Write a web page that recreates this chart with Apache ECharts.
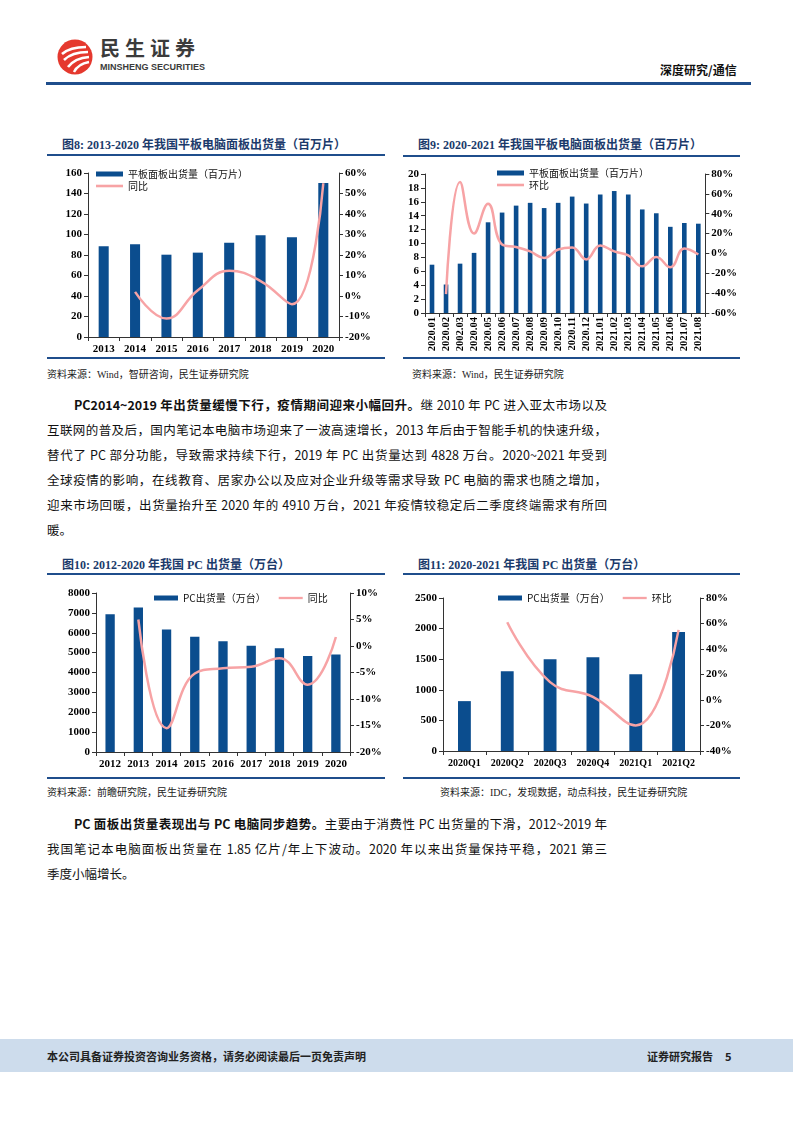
<!DOCTYPE html>
<html><head><meta charset="utf-8">
<script src="https://cdn.jsdelivr.net/npm/echarts/dist/echarts.min.js"></script>
<style>
body{margin:0;width:793px;height:1122px;position:relative;background:#fff;font-family:"Noto Sans CJK SC",sans-serif;overflow:hidden}
.abs{position:absolute}
.title{position:absolute;font-family:"Liberation Serif","Noto Sans CJK SC",serif;font-weight:bold;font-size:12px;color:#1b3a6b;white-space:nowrap;line-height:14px}
.rule{position:absolute;height:2px;background:#1f4e8c}
.src{position:absolute;font-family:"Liberation Serif","Noto Sans CJK SC",serif;font-size:10px;color:#222;white-space:nowrap;line-height:12px}
.para{position:absolute;left:47px;width:560px;font-size:12.5px;color:#111}
.para div{height:25px;line-height:25px;white-space:nowrap;text-align:justify;text-align-last:justify}
.para div.last{text-align-last:left}
.para b{font-weight:bold}
.chart{position:absolute}
</style></head>
<body>
<!-- header -->
<svg class="abs" style="left:56px;top:38px" width="40" height="40" viewBox="0 0 40 40">
  <circle cx="19" cy="19" r="17.5" fill="#e5392e"/>
  <path d="M6 16 Q14 9 30 9" stroke="#fff" stroke-width="2.6" fill="none"/>
  <path d="M8 22 Q16 14 32 14" stroke="#fff" stroke-width="2.6" fill="none"/>
  <path d="M12 29 Q19 20 33 19" stroke="#fff" stroke-width="2.6" fill="none"/>
  <path d="M18 34 Q22 26 33 24" stroke="#fff" stroke-width="2.4" fill="none"/>
</svg>
<div class="abs" style="left:100px;top:36px;font-size:20px;font-weight:bold;color:#3b3b3b;letter-spacing:5px;line-height:24px">民生证券</div>
<div class="abs" style="left:100px;top:62px;font-family:'Liberation Sans Narrow','Liberation Sans',sans-serif;font-size:9px;font-weight:bold;color:#3b3b3b;line-height:10px;white-space:nowrap">MINSHENG SECURITIES</div>
<div class="abs" style="left:660px;top:62px;font-size:12px;font-weight:bold;color:#111;line-height:16px;white-space:nowrap">深度研究/通信</div>
<div class="rule" style="left:46px;top:82px;width:705px;height:3px"></div>

<!-- chart titles and rules -->
<div class="title" style="left:62px;top:138px">图8: 2013-2020 年我国平板电脑面板出货量（百万片）</div>
<div class="rule" style="left:47px;top:154px;width:338px"></div>
<div class="rule" style="left:47px;top:357px;width:338px"></div>
<div class="src" style="left:47px;top:369px">资料来源：Wind，智研咨询，民生证券研究院</div>

<div class="title" style="left:418px;top:138px">图9: 2020-2021 年我国平板电脑面板出货量（百万片）</div>
<div class="rule" style="left:403px;top:155px;width:337px"></div>
<div class="rule" style="left:403px;top:357px;width:337px"></div>
<div class="src" style="left:412px;top:369px">资料来源：Wind，民生证券研究院</div>

<div class="title" style="left:62px;top:558px">图10: 2012-2020 年我国 PC 出货量（万台）</div>
<div class="rule" style="left:47px;top:573px;width:338px"></div>
<div class="rule" style="left:47px;top:777px;width:338px"></div>
<div class="src" style="left:47px;top:787px">资料来源：前瞻研究院，民生证券研究院</div>

<div class="title" style="left:418px;top:558px">图11: 2020-2021 年我国 PC 出货量（万台）</div>
<div class="rule" style="left:403px;top:573px;width:337px"></div>
<div class="rule" style="left:403px;top:777px;width:337px"></div>
<div class="src" style="left:440px;top:787px">资料来源：IDC，发现数据，动点科技，民生证券研究院</div>

<!-- paragraphs -->
<div class="para" style="top:392px">
<div style="padding-left:27px"><b>PC2014~2019 年出货量缓慢下行，疫情期间迎来小幅回升。</b>继 2010 年 PC 进入亚太市场以及</div>
<div>互联网的普及后，国内笔记本电脑市场迎来了一波高速增长，2013 年后由于智能手机的快速升级，</div>
<div>替代了 PC 部分功能，导致需求持续下行，2019 年 PC 出货量达到 4828 万台。2020~2021 年受到</div>
<div>全球疫情的影响，在线教育、居家办公以及应对企业升级等需求导致 PC 电脑的需求也随之增加，</div>
<div>迎来市场回暖，出货量抬升至 2020 年的 4910 万台，2021 年疫情较稳定后二季度终端需求有所回</div>
<div class="last">暖。</div>
</div>
<div class="para" style="top:811px">
<div style="padding-left:27px"><b>PC 面板出货量表现出与 PC 电脑同步趋势。</b>主要由于消费性 PC 出货量的下滑，2012~2019 年</div>
<div>我国笔记本电脑面板出货量在 1.85 亿片/年上下波动。2020 年以来出货量保持平稳，2021 第三</div>
<div class="last">季度小幅增长。</div>
</div>

<!-- footer -->
<div class="abs" style="left:0;top:1039px;width:793px;height:33px;background:#cddcec"></div>
<div class="abs" style="left:47px;top:1049px;font-size:11px;font-weight:bold;color:#222;line-height:14px;white-space:nowrap">本公司具备证券投资咨询业务资格，请务必阅读最后一页免责声明</div>
<div class="abs" style="left:647px;top:1049px;font-size:11px;font-weight:bold;color:#222;line-height:14px;white-space:nowrap">证券研究报告</div>
<div class="abs" style="left:725px;top:1049px;font-size:11px;font-weight:bold;color:#222;line-height:14px">5</div>

<div id="c8" class="chart" style="left:47px;top:160px;width:340px;height:198px"></div>
<div id="c9" class="chart" style="left:403px;top:160px;width:337px;height:198px"></div>
<div id="c10" class="chart" style="left:47px;top:580px;width:340px;height:198px"></div>
<div id="c11" class="chart" style="left:403px;top:580px;width:337px;height:198px"></div>

<script>
// ---- data ----
const years8 = ['2013','2014','2015','2016','2017','2018','2019','2020'];
const panel8 = [88.5, 90.4, 80.3, 82.3, 92, 99.2, 97.2, 150.2];
const yoy8 = [null, 2.0, -11, 2.8, 12.3, 7.3, -4, 55];

const months9 = ['2020.01','2020.02','2002.03','2020.04','2020.05','2020.06','2020.07','2020.08','2020.09','2020.10','2020.11','2020.12','2021.01','2021.02','2021.03','2021.04','2021.05','2021.06','2021.07','2021.08'];
const panel9 = [6.95, 4.1, 7.1, 8.65, 13.05, 14.45, 15.45, 15.85, 15.1, 15.85, 16.75, 15.75, 17.05, 17.55, 17.05, 14.9, 14.35, 12.4, 12.95, 12.85];
const mom9 = [null, -41, 72, 20, 50, 9, 6.5, 2, -4.5, 4, 6, -6, 8, 2, -2, -13, -3.5, -14, 5, -1];

const years10 = ['2012','2013','2014','2015','2016','2017','2018','2019','2020'];
const pc10 = [6930, 7265, 6158, 5805, 5570, 5352, 5218, 4828, 4910];
const yoy10 = [null, 5, -15.5, -5.2, -4.2, -3.9, -2.3, -7.3, 1.7];

const quarters11 = ['2020Q1','2020Q2','2020Q3','2020Q4','2021Q1','2021Q2'];
const pc11 = [815, 1304, 1500, 1530, 1255, 1946];
const qoq11 = [null, 61, 14, 2.5, -20, 55];

// ---- styles ----
const BAR = '#0b4d8e', LINE = '#f7a3a5', AX = '#333';
const serif = 'Liberation Serif';
const LINE_ICON = 'path://M0,0L27,0L27,2.6L0,2.6Z';
const numFmt = v => String(v);
const pctFmt = v => v + '%';
function yAx(min, max, interval, fmt, pos) {
  return {type:'value', position:pos, min, max, interval,
    axisLine:{show:true, lineStyle:{color:AX, width:1}},
    axisTick:{show:true, length:4, lineStyle:{color:AX}},
    splitLine:{show:false},
    axisLabel:{color:'#000', fontFamily:serif, fontWeight:'bold', fontSize:11, formatter:fmt, margin:6}};
}
function xAx(data, extra) {
  return Object.assign({type:'category', data,
    axisLine:{lineStyle:{color:AX}},
    axisTick:{show:true, length:4, alignWithLabel:false, lineStyle:{color:AX}},
    axisLabel:{color:'#000', fontFamily:serif, fontWeight:'bold', fontSize:11, interval:0, margin:7}}, extra||{});
}
const legText = {fontSize:10, color:'#111', fontFamily:'Noto Sans CJK SC'};
function barS(name, data, w) { return {name, type:'bar', data, barWidth:w, itemStyle:{color:BAR}, yAxisIndex:0, animation:false}; }
function lineS(name, data) { return {name, type:'line', data, yAxisIndex:1, smooth:0.45, symbol:'none', lineStyle:{color:LINE, width:2.5}, itemStyle:{color:LINE}, animation:false}; }

// chart 8
echarts.init(document.getElementById('c8')).setOption({
  animation:false,
  grid:{left:41, right:48, top:13, bottom:21},
  legend:{orient:'vertical', left:44, top:4, itemWidth:27, itemHeight:5, itemGap:2, textStyle:legText, symbolKeepAspect:true,
    data:[{name:'平板面板出货量（百万片）', icon:'rect'}, {name:'同比', icon:LINE_ICON}]},
  xAxis: xAx(years8),
  yAxis:[yAx(0,160,20,numFmt,'left'), yAx(-20,60,10,pctFmt,'right')],
  series:[barS('平板面板出货量（百万片）', panel8, '32%'), lineS('同比', yoy8)]
});

// chart 9
echarts.init(document.getElementById('c9')).setOption({
  animation:false,
  grid:{left:22, right:32, top:14, bottom:45},
  legend:{orient:'vertical', left:89, top:3, itemWidth:27, itemHeight:5, itemGap:2, textStyle:legText, symbolKeepAspect:true,
    data:[{name:'平板面板出货量（百万片）', icon:'rect'}, {name:'环比', icon:LINE_ICON}]},
  xAxis: xAx(months9, {axisLabel:{color:'#000', fontFamily:serif, fontWeight:'bold', fontSize:10.5, interval:0, rotate:90, margin:4}}),
  yAxis:[yAx(0,20,2,numFmt,'left'), yAx(-60,80,20,pctFmt,'right')],
  series:[barS('平板面板出货量（百万片）', panel9, '33%'), lineS('环比', mom9)]
});

// chart 10
echarts.init(document.getElementById('c10')).setOption({
  animation:false,
  grid:{left:49, right:37, top:13, bottom:26},
  legend:{orient:'horizontal', left:102, top:8, itemWidth:24, itemHeight:5, itemGap:13, textStyle:legText, symbolKeepAspect:true,
    data:[{name:'PC出货量（万台）', icon:'rect'}, {name:'同比', icon:LINE_ICON}]},
  xAxis: xAx(years10),
  yAxis:[yAx(0,8000,1000,numFmt,'left'), yAx(-20,10,5,pctFmt,'right')],
  series:[barS('PC出货量（万台）', pc10, '33%'), lineS('同比', yoy10)]
});

// chart 11
echarts.init(document.getElementById('c11')).setOption({
  animation:false,
  grid:{left:40, right:40, top:18, bottom:27},
  legend:{orient:'horizontal', left:90, top:8, itemWidth:24, itemHeight:5, itemGap:13, textStyle:legText, symbolKeepAspect:true,
    data:[{name:'PC出货量（万台）', icon:'rect'}, {name:'环比', icon:LINE_ICON}]},
  xAxis: xAx(quarters11, {axisLabel:{color:'#000', fontFamily:serif, fontWeight:'bold', fontSize:10, interval:0, margin:7}}),
  yAxis:[yAx(0,2500,500,numFmt,'left'), yAx(-40,80,20,pctFmt,'right')],
  series:[barS('PC出货量（万台）', pc11, '30%'), lineS('环比', qoq11)]
});
</script>
</body></html>
